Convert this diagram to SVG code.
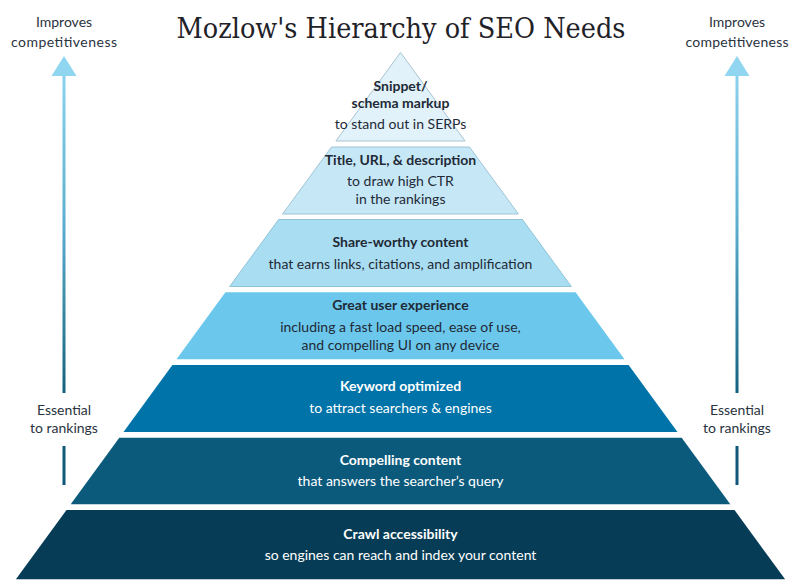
<svg xmlns="http://www.w3.org/2000/svg" width="800" height="588" viewBox="0 0 800 588">
<defs>
<linearGradient id="shaft" x1="0" y1="56" x2="0" y2="395" gradientUnits="userSpaceOnUse">
<stop offset="0" stop-color="#90d6f1"/>
<stop offset="0.5" stop-color="#5aaed0"/>
<stop offset="1" stop-color="#12607f"/>
</linearGradient>
<style>
.lbl{font-family:Lato,"Liberation Sans",sans-serif;font-size:14px;fill:#2a3340;text-anchor:middle}
.t{font-family:Lato,"Liberation Sans",sans-serif;font-size:14px;text-anchor:middle}
.b{font-weight:bold}
.dk{fill:#1f2a36}
.wt{fill:#ffffff}
.title{font-family:"DejaVu Serif","Liberation Serif",serif;font-size:27px;fill:#1f2228;text-anchor:middle}
</style>
</defs>
<rect width="800" height="588" fill="#ffffff"/>
<text class="title" x="401" y="38" textLength="449" lengthAdjust="spacingAndGlyphs">Mozlow's Hierarchy of SEO Needs</text>

<g id="left-axis">
<text class="lbl" x="64" y="27">Improves</text>
<text class="lbl" x="64" y="47" textLength="106">competitiveness</text>
<polygon points="64,56 51.5,76 76.5,76" fill="#90d6f1"/>
<rect x="62.5" y="75" width="3" height="318" fill="url(#shaft)"/>
<text class="lbl" x="64" y="415">Essential</text>
<text class="lbl" x="64" y="433">to rankings</text>
<rect x="62.5" y="446" width="3" height="39" fill="#0f587a"/>
</g>
<g id="right-axis">
<text class="lbl" x="737" y="27">Improves</text>
<text class="lbl" x="737" y="47" textLength="103">competitiveness</text>
<polygon points="737,56 724.5,76 749.5,76" fill="#90d6f1"/>
<rect x="735.5" y="75" width="3" height="318" fill="url(#shaft)"/>
<text class="lbl" x="737" y="415">Essential</text>
<text class="lbl" x="737" y="433">to rankings</text>
<rect x="735.5" y="446" width="3" height="39" fill="#0f587a"/>
</g>

<g id="connectors"></g>

<g id="layer1">
<polygon points="400.5,52.5 465.1,141 335.9,141" fill="#e1f2fa" stroke="#a9c4d2" stroke-width="1"/>
<text class="t b dk" x="400.5" y="91">Snippet/</text>
<text class="t b dk" x="400.5" y="108">schema markup</text>
<text class="t dk" x="400.5" y="129">to stand out in SERPs</text>
</g>
<g id="layer2">
<polygon points="331.5,147 469.5,147 518.4,214 282.6,214" fill="#c6e7f6" stroke="#9fc4d6" stroke-width="1"/>
<text class="t b dk" x="400.5" y="165">Title, URL, &amp; description</text>
<text class="t dk" x="400.5" y="186">to draw high CTR</text>
<text class="t dk" x="400.5" y="204">in the rankings</text>
</g>
<g id="layer3">
<polygon points="278.6,219.5 522.4,219.5 571.3,286.5 229.7,286.5" fill="#a9ddf2" stroke="#8fc3d8" stroke-width="1"/>
<text class="t b dk" x="400.5" y="247">Share-worthy content</text>
<text class="t dk" x="400.5" y="269">that earns links, citations, and amplification</text>
</g>
<g id="layer4">
<polygon points="225.4,292.3 575.6,292.3 624.5,359.3 176.5,359.3" fill="#6bc7ec"/>
<text class="t b dk" x="400.5" y="310">Great user experience</text>
<text class="t dk" x="400.5" y="332">including a fast load speed, ease of use,</text>
<text class="t dk" x="400.5" y="350">and compelling UI on any device</text>
</g>
<g id="layer5">
<polygon points="172.4,365 628.6,365 677.5,432 123.5,432" fill="#0073a8"/>
<text class="t b wt" x="400.5" y="391">Keyword optimized</text>
<text class="t wt" x="400.5" y="413">to attract searchers &amp; engines</text>
</g>
<g id="layer6">
<polygon points="119.3,437.7 681.7,437.7 730.3,504.3 70.7,504.3" fill="#0b5a7c"/>
<text class="t b wt" x="400.5" y="465">Compelling content</text>
<text class="t wt" x="400.5" y="486">that answers the searcher’s query</text>
</g>
<g id="layer7">
<polygon points="66.5,510 734.5,510 785.1,579.3 15.9,579.3" fill="#063c55"/>
<text class="t b wt" x="400.5" y="539">Crawl accessibility</text>
<text class="t wt" x="400.5" y="560">so engines can reach and index your content</text>
</g>
</svg>
